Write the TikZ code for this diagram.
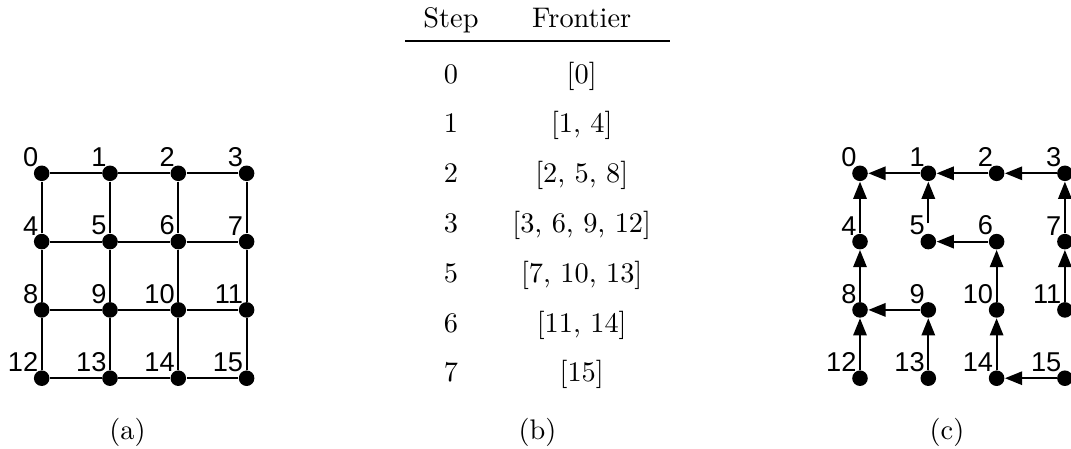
\documentclass[tikz,border=0pt]{standalone}
\usepackage{fontspec}
\newfontfamily\lbfont{Liberation Sans}
\usetikzlibrary{arrows.meta,calc}
\tikzset{
  dot/.style={circle,fill=black,draw=none,inner sep=0pt,minimum size=5.6pt},
  lbl/.style={font=\fontsize{9.8}{11}\selectfont\lbfont,inner sep=0pt,anchor=south east},
  edgeline/.style={line width=0.75pt},
  arr/.style={line width=0.75pt,-{Triangle[length=6.2pt,width=4.8pt]}},
  tabtxt/.style={font=\fontsize{10.2}{12}\selectfont,inner sep=0pt,anchor=base},
}
\begin{document}
\begin{tikzpicture}[x=0.36pt,y=-0.36pt]
\useasboundingbox (0,0) rectangle (1071,448);
% ---- (a) grid
\foreach \i in {0,...,15} {
  \pgfmathtruncatemacro\col{mod(\i,4)}
  \pgfmathtruncatemacro\row{div(\i,4)}
  \node[dot] (a\i) at ({41.7+68.3*\col},{173.3+68.3*\row}) {};
  \node[lbl] (la\i) at ($(a\i)+(-3,-6)$) {\i};
}
\foreach \u/\v in {0/1,1/2,2/3,4/5,5/6,6/7,8/9,9/10,10/11,12/13,13/14,14/15,
                   0/4,4/8,8/12,1/5,5/9,9/13,2/6,6/10,10/14,3/7,7/11,11/15}
  \draw[edgeline] (a\u) -- (a\v);
\node[tabtxt] (capa) at (127.5,439) {(a)};
% ---- (b) table
\node[tabtxt] (hstep) at (451,27) {Step};
\node[tabtxt] (hfront) at (581.7,27) {Frontier};
\draw[line width=0.9pt] (405,41) -- (670,41);
\foreach \s/\f [count=\k from 0] in {0/{[0]},1/{[1, 4]},2/{[2, 5, 8]},3/{[3, 6, 9, 12]},5/{[7, 10, 13]},6/{[11, 14]},7/{[15]}} {
  \node[tabtxt] (s\k) at (451,{83+49.8*\k}) {\s};
  \node[tabtxt] (f\k) at (581.7,{83+49.8*\k}) {\f};
}
\node[tabtxt] (capb) at (537.5,439) {(b)};
% ---- (c) tree
\foreach \i in {0,...,15} {
  \pgfmathtruncatemacro\col{mod(\i,4)}
  \pgfmathtruncatemacro\row{div(\i,4)}
  \node[dot] (c\i) at ({860+68.3*\col},{173.3+68.3*\row}) {};
  \node[lbl] (lc\i) at ($(c\i)+(-3,-6)$) {\i};
}
\foreach \u/\v in {1/0,2/1,3/2,4/0,6/5,7/3,8/4,9/8,10/6,11/7,12/8,13/9,14/10,15/14}
  \draw[arr] (c\u) -- (c\v);
\draw[arr,shorten <=3.6pt] (c5) -- (c1);
\node[tabtxt] (capc) at (947,439) {(c)};
\end{tikzpicture}
\end{document}
